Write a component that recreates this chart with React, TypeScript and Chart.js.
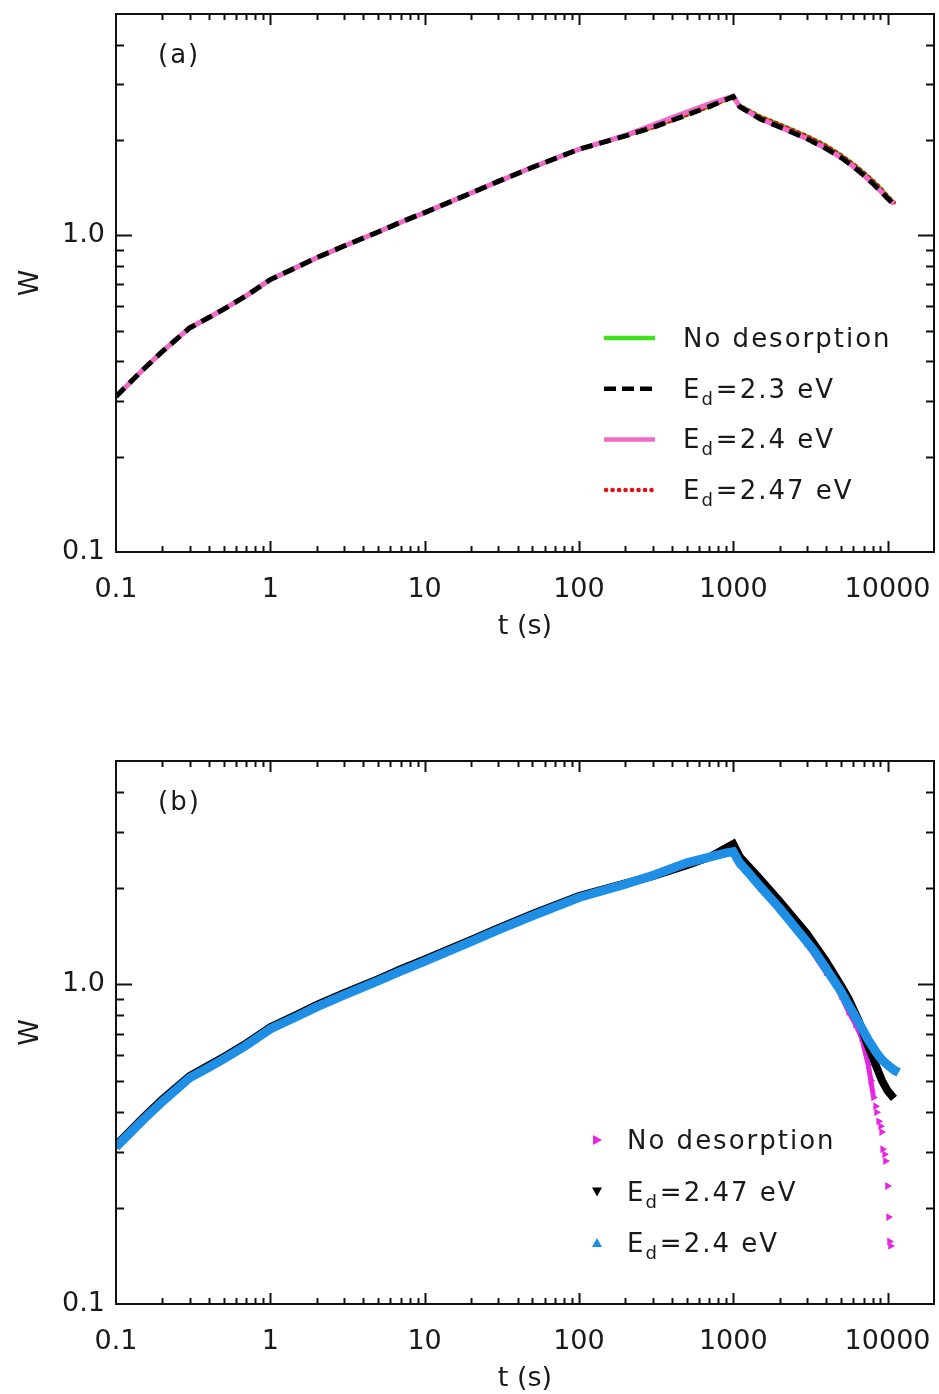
import React, { useEffect, useRef } from "react";
import { Chart, registerables } from "chart.js";
Chart.register(...registerables);

const FONT = "'DejaVu Sans', sans-serif";
const TEXT = "#1a1a1a";

// ---- axes ----
const X_MIN = 0.1;
const X_MAX = 20000;
const Y_MIN = 0.1;
const Y_MAX = 5;
const xMajor = [0.1, 1, 10, 100, 1000, 10000];
const xTickLabels = ["0.1", "1", "10", "100", "1000", "10000"];
const yMajor = [0.1, 1];
const yTickLabels = ["0.1", "1.0"];

// ---- panel (a) ----
const tA = [0.1, 0.15, 0.2, 0.3, 0.4, 0.5, 0.7, 1, 1.5, 2, 3, 5, 7, 10, 20, 30, 50, 100, 200, 300, 500, 700, 1000, 1100, 1500, 2000, 3000, 4000, 5000, 6000, 7000, 8000, 9000, 10000, 11000];
const wA_noDes = [0.31, 0.377, 0.43, 0.51, 0.55, 0.585, 0.645, 0.725, 0.795, 0.85, 0.925, 1.025, 1.1, 1.18, 1.36, 1.48, 1.64, 1.87, 2.06, 2.19, 2.4, 2.55, 2.74, 2.57, 2.37, 2.24, 2.06, 1.92, 1.79, 1.68, 1.58, 1.49, 1.41, 1.33, 1.27];
const wA_23 = [0.31, 0.377, 0.43, 0.51, 0.55, 0.585, 0.645, 0.725, 0.795, 0.85, 0.925, 1.025, 1.1, 1.18, 1.36, 1.48, 1.64, 1.87, 2.06, 2.19, 2.4, 2.55, 2.74, 2.55, 2.33, 2.2, 2.02, 1.88, 1.76, 1.65, 1.55, 1.46, 1.38, 1.31, 1.25];
const wA_24 = [0.31, 0.377, 0.43, 0.51, 0.55, 0.585, 0.645, 0.725, 0.795, 0.85, 0.925, 1.025, 1.1, 1.18, 1.36, 1.48, 1.64, 1.87, 2.07, 2.23, 2.45, 2.6, 2.75, 2.55, 2.33, 2.2, 2.02, 1.88, 1.76, 1.65, 1.55, 1.46, 1.38, 1.31, 1.26];
const wA_247 = [0.31, 0.377, 0.43, 0.51, 0.55, 0.585, 0.645, 0.725, 0.795, 0.85, 0.925, 1.025, 1.1, 1.18, 1.36, 1.48, 1.64, 1.87, 2.06, 2.19, 2.4, 2.55, 2.74, 2.57, 2.37, 2.24, 2.06, 1.92, 1.79, 1.68, 1.58, 1.49, 1.41, 1.33, 1.27];
const legendA = ["No desorption", "E_d=2.3 eV", "E_d=2.4 eV", "E_d=2.47 eV"];

// ---- panel (b) ----
const tB_noDes = [0.1, 0.15, 0.2, 0.3, 0.4, 0.5, 0.7, 1, 1.5, 2, 3, 5, 7, 10, 20, 30, 50, 100, 200, 300, 500, 700, 1000, 1100, 1500, 2000, 3000, 4000, 4600, 5000, 5600, 6200, 6800, 7500, 7800, 8110, 8360, 8490, 8750, 9010, 9150, 9290, 9560, 9700, 9990, 10150, 10300, 10450];
const wB_noDes = [0.31, 0.377, 0.43, 0.51, 0.55, 0.585, 0.645, 0.725, 0.795, 0.85, 0.925, 1.025, 1.1, 1.18, 1.36, 1.48, 1.64, 1.87, 2.06, 2.19, 2.4, 2.5, 2.6, 2.38, 2.0, 1.71, 1.34, 1.09, 1.0, 0.92, 0.82, 0.75, 0.68, 0.56, 0.5, 0.443, 0.416, 0.398, 0.373, 0.36, 0.345, 0.305, 0.294, 0.28, 0.234, 0.187, 0.157, 0.152];
const tB_247 = [0.1, 0.15, 0.2, 0.3, 0.4, 0.5, 0.7, 1, 1.5, 2, 3, 5, 7, 10, 20, 30, 50, 100, 200, 300, 500, 700, 1000, 1100, 1500, 2000, 3000, 3400, 4000, 5000, 5600, 6500, 7500, 8500, 9200, 10000, 11000];
const wB_247 = [0.314, 0.383, 0.437, 0.517, 0.558, 0.593, 0.654, 0.735, 0.806, 0.862, 0.938, 1.039, 1.115, 1.196, 1.378, 1.498, 1.66, 1.89, 2.07, 2.18, 2.36, 2.5, 2.75, 2.51, 2.13, 1.82, 1.44, 1.32, 1.18, 0.99, 0.9, 0.77, 0.64, 0.55, 0.5, 0.465, 0.44];
const tB_24 = [0.1, 0.15, 0.2, 0.3, 0.4, 0.5, 0.7, 1, 1.5, 2, 3, 5, 7, 10, 20, 30, 50, 100, 200, 300, 500, 700, 900, 1000, 1100, 1250, 1500, 2000, 3000, 3400, 4000, 5000, 5600, 6500, 7500, 8500, 9200, 10000, 11000, 11800];
const wB_24 = [0.31, 0.377, 0.43, 0.51, 0.55, 0.585, 0.645, 0.725, 0.795, 0.85, 0.925, 1.025, 1.1, 1.18, 1.36, 1.48, 1.64, 1.87, 2.06, 2.19, 2.4, 2.5, 2.58, 2.6, 2.4, 2.24, 2.02, 1.73, 1.36, 1.26, 1.12, 0.95, 0.86, 0.76, 0.67, 0.61, 0.58, 0.56, 0.54, 0.53];
const legendB = ["No desorption", "E_d=2.47 eV", "E_d=2.4 eV"];

const GREEN = "#3fe21c";
const PINK = "#f068c8";
const RED = "#e01010";
const MAGENTA = "#e626e0";
const BLUE = "#1f8fe6";

const pts = (ts: number[], ws: number[]) => ts.map((t, i) => ({ x: t, y: ws[i] }));

function drawLabel(ctx: CanvasRenderingContext2D, text: string, x: number, y: number) {
  const big = `26px ${FONT}`;
  const small = `18px ${FONT}`;
  ctx.font = big;
  const idx = text.indexOf("_");
  if (idx < 0) {
    ctx.fillText(text, x, y);
    return;
  }
  const main = text.slice(0, idx);
  const sub = text.slice(idx + 1, idx + 2);
  const rest = text.slice(idx + 2);
  ctx.fillText(main, x, y);
  x += ctx.measureText(main).width;
  ctx.font = small;
  ctx.fillText(sub, x, y + 7);
  x += ctx.measureText(sub).width + 1;
  ctx.font = big;
  ctx.fillText(rest, x, y);
}

function triangle(ctx: CanvasRenderingContext2D, cx: number, cy: number, r: number, dir: string, color: string) {
  ctx.beginPath();
  if (dir === "up") {
    ctx.moveTo(cx, cy - r); ctx.lineTo(cx + r, cy + r * 0.8); ctx.lineTo(cx - r, cy + r * 0.8);
  } else if (dir === "down") {
    ctx.moveTo(cx, cy + r); ctx.lineTo(cx + r, cy - r * 0.8); ctx.lineTo(cx - r, cy - r * 0.8);
  } else {
    ctx.moveTo(cx + r, cy); ctx.lineTo(cx - r * 0.8, cy - r); ctx.lineTo(cx - r * 0.8, cy + r);
  }
  ctx.closePath();
  ctx.fillStyle = color;
  ctx.fill();
}

const framePlugin = {
  id: "frame",
  afterDraw(chart: any, _args: any, opts: any) {
    const { ctx, chartArea: a, scales } = chart;
    const xs = scales.x;
    const ys = scales.y;
    ctx.save();
    ctx.strokeStyle = "#111";
    ctx.lineWidth = 2;
    ctx.lineCap = "butt";
    ctx.setLineDash([]);
    ctx.strokeRect(a.left, a.top, a.right - a.left, a.bottom - a.top);
    ctx.beginPath();
    for (const d of xMajor) {
      for (let m = 1; m <= 9; m++) {
        const v = d * m;
        if (v <= X_MIN || v >= X_MAX) continue;
        const px = Math.round(xs.getPixelForValue(v)) + 0.5;
        const L = m === 1 ? 11 : 6;
        ctx.moveTo(px, a.bottom); ctx.lineTo(px, a.bottom - L);
        ctx.moveTo(px, a.top); ctx.lineTo(px, a.top + L);
      }
    }
    for (const d of yMajor) {
      for (let m = 1; m <= 9; m++) {
        const v = d * m;
        if (v <= Y_MIN || v >= Y_MAX) continue;
        const py = Math.round(ys.getPixelForValue(v)) + 0.5;
        const L = m === 1 ? 16 : 8;
        ctx.moveTo(a.left, py); ctx.lineTo(a.left + L, py);
        ctx.moveTo(a.right, py); ctx.lineTo(a.right - L, py);
      }
    }
    ctx.stroke();

    ctx.fillStyle = TEXT;
    ctx.textBaseline = "alphabetic";
    ctx.textAlign = "left";
    (ctx as any).letterSpacing = "2px";
    ctx.font = `26px ${FONT}`;
    ctx.fillText(opts.panel, a.left + 42, a.top + 49);

    const items = opts.items as any[];
    items.forEach((it, i) => {
      const y = a.top + opts.rowTop + i * opts.rowGap;
      ctx.save();
      if (it.kind === "line") {
        const x0 = a.right - 330;
        const x1 = a.right - 279;
        ctx.strokeStyle = it.color;
        ctx.lineWidth = 4.5;
        ctx.setLineDash(it.dash || []);
        ctx.lineCap = it.round ? "round" : "butt";
        ctx.beginPath();
        ctx.moveTo(x0 + (it.round ? 2 : 0), y);
        ctx.lineTo(x1, y);
        ctx.stroke();
      } else {
        triangle(ctx, a.right - 337, y, 5, it.dir, it.color);
      }
      ctx.restore();
      ctx.fillStyle = TEXT;
      (ctx as any).letterSpacing = "2px";
      drawLabel(ctx, it.label, a.right - (it.kind === "line" ? 251 : 307), y + 9);
    });
    ctx.restore();
  },
};

const noPad = (s: any) => {
  s.paddingTop = 0;
  s.paddingBottom = 0;
  s.paddingLeft = 0;
  s.paddingRight = 0;
};

function makeOptions(padTop: number, padBottom: number, frame: any) {
  const tickFont = { family: FONT, size: 27 };
  return {
    responsive: false,
    animation: false,
    devicePixelRatio: 1,
    layout: { padding: { left: 0, right: 5, top: padTop, bottom: padBottom } },
    plugins: {
      legend: { display: false },
      tooltip: { enabled: false },
      frame,
    },
    scales: {
      x: {
        type: "logarithmic",
        min: X_MIN,
        max: X_MAX,
        grid: { display: false, drawTicks: false },
        border: { display: false },
        afterBuildTicks: (s: any) => { s.ticks = xMajor.map((v) => ({ value: v })); },
        afterFit: (s: any) => { s.height = 88; noPad(s); },
        ticks: {
          autoSkip: false, maxRotation: 0, minRotation: 0, padding: 22,
          font: tickFont, color: TEXT,
          callback: (_v: any, i: number) => xTickLabels[i],
        },
        title: { display: true, text: "t (s)", font: tickFont, color: TEXT, padding: { top: 0, bottom: -3 } },
      },
      y: {
        type: "logarithmic",
        min: Y_MIN,
        max: Y_MAX,
        grid: { display: false, drawTicks: false },
        border: { display: false },
        afterBuildTicks: (s: any) => { s.ticks = yMajor.map((v) => ({ value: v })); },
        afterFit: (s: any) => { s.width = 116; noPad(s); },
        ticks: {
          autoSkip: false, padding: 11, font: tickFont, color: TEXT,
          callback: (_v: any, i: number) => yTickLabels[i],
        },
        title: { display: true, text: "W", font: tickFont, color: TEXT, padding: { top: 15, bottom: 0 } },
      },
    },
  };
}

function configA(): any {
  return {
    type: "scatter",
    data: {
      datasets: [
        { label: legendA[3], data: pts(tA, wA_247), showLine: true, borderColor: RED, borderWidth: 4, borderDash: [1, 5], borderCapStyle: "round", pointRadius: 0, order: 2 },
        { label: legendA[1], data: pts(tA, wA_23), showLine: true, borderColor: "#000", borderWidth: 5, borderDash: [12, 7], pointRadius: 0, order: 0 },
        { label: legendA[2], data: pts(tA, wA_24), showLine: true, borderColor: PINK, borderWidth: 5, pointRadius: 0, order: 1 },
        { label: legendA[0], data: pts(tA, wA_noDes), showLine: true, borderColor: GREEN, borderWidth: 4, pointRadius: 0, order: 3 },
      ],
    },
    options: makeOptions(14, 57, {
      panel: "(a)",
      rowTop: 324,
      rowGap: 50.7,
      items: [
        { kind: "line", label: legendA[0], color: GREEN },
        { kind: "line", label: legendA[1], color: "#000", dash: [12, 6] },
        { kind: "line", label: legendA[2], color: PINK },
        { kind: "line", label: legendA[3], color: RED, dash: [0.1, 6.4], round: true },
      ],
    }),
    plugins: [framePlugin],
  };
}

function configB(): any {
  const cut = tB_noDes.indexOf(8110);
  return {
    type: "scatter",
    data: {
      datasets: [
        {
          label: legendB[0], data: pts(tB_noDes, wB_noDes), showLine: true, borderColor: MAGENTA, borderWidth: 5,
          segment: { borderColor: (c: any) => (c.p0DataIndex >= cut ? "rgba(0,0,0,0)" : MAGENTA) },
          pointStyle: "triangle", pointRotation: 90, pointRadius: 4.5, pointBackgroundColor: MAGENTA, pointBorderWidth: 0, order: 3,
        },
        { label: legendB[1], data: pts(tB_247, wB_247), showLine: true, borderColor: "#000", borderWidth: 8, pointRadius: 0, pointStyle: "triangle", pointRotation: 180, order: 2 },
        { label: legendB[2], data: pts(tB_24, wB_24), showLine: true, borderColor: BLUE, borderWidth: 9, pointRadius: 0, pointStyle: "triangle", order: 1 },
      ],
    },
    options: makeOptions(64, 2, {
      panel: "(b)",
      rowTop: 379,
      rowGap: 51.5,
      items: [
        { kind: "marker", label: legendB[0], color: MAGENTA, dir: "right" },
        { kind: "marker", label: legendB[1], color: "#000", dir: "down" },
        { kind: "marker", label: legendB[2], color: BLUE, dir: "up" },
      ],
    }),
    plugins: [framePlugin],
  };
}

function Panel({ make, top }: { make: () => any; top: number }) {
  const ref = useRef<HTMLCanvasElement>(null);
  useEffect(() => {
    const chart = new Chart(ref.current as HTMLCanvasElement, make());
    return () => chart.destroy();
  }, [make]);
  return (
    <canvas
      ref={ref}
      width={939}
      height={697}
      style={{ position: "absolute", left: 0, top, width: 939, height: 697, display: "block" }}
    />
  );
}

export default function App() {
  return (
    <div style={{ position: "absolute", left: 0, top: 0, width: 939, height: 1394, background: "#fff" }}>
      <Panel make={configA} top={0} />
      <Panel make={configB} top={697} />
    </div>
  );
}
